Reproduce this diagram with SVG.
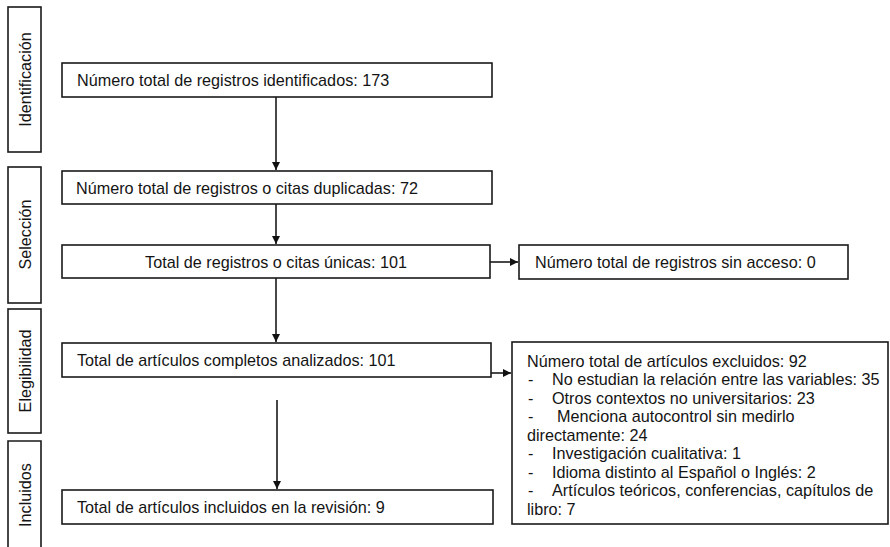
<svg xmlns="http://www.w3.org/2000/svg" width="890" height="547" viewBox="0 0 890 547">
  <style>
    .box { fill: #ffffff; stroke: #1a1a1a; stroke-width: 1.6; }
    .txt { font-family: "Liberation Sans", Arial, sans-serif; font-size: 16.2px; fill: #141414; }
    .edge { stroke: #1a1a1a; stroke-width: 1.6; fill: none; marker-end: url(#arrow); }
  </style>
  <defs>
    <marker id="arrow" viewBox="0 0 10 10" refX="10" refY="5" markerWidth="8" markerHeight="8" markerUnits="userSpaceOnUse" orient="auto">
      <path d="M0,0 L10,5 L0,10 Z" fill="#111111"/>
    </marker>
  </defs>

  <rect width="890" height="547" fill="#ffffff"/>

  <!-- phase labels -->
  <g id="phase-identificacion">
    <rect class="box" x="8" y="7" width="33" height="145"/>
    <text class="txt" transform="translate(30.5,79.5) rotate(-90)" text-anchor="middle">Identificación</text>
  </g>
  <g id="phase-seleccion">
    <rect class="box" x="8" y="167" width="33" height="136"/>
    <text class="txt" transform="translate(30.5,234.5) rotate(-90)" text-anchor="middle">Selección</text>
  </g>
  <g id="phase-elegibilidad">
    <rect class="box" x="8" y="309" width="33" height="124"/>
    <text class="txt" transform="translate(30.5,371) rotate(-90)" text-anchor="middle">Elegibilidad</text>
  </g>
  <g id="phase-incluidos">
    <path class="box" d="M8,548 L8,441 L41,441 L41,548"/>
    <text class="txt" transform="translate(30.5,495) rotate(-90)" text-anchor="middle">Incluidos</text>
  </g>

  <!-- flow boxes -->
  <g id="identificados">
    <rect class="box" x="62" y="63" width="430" height="34"/>
    <text class="txt" x="77" y="86">Número total de registros identificados: 173</text>
  </g>
  <g id="duplicados">
    <rect class="box" x="62" y="171" width="430" height="33"/>
    <text class="txt" x="76" y="193.5">Número total de registros o citas duplicadas: 72</text>
  </g>
  <g id="unicos">
    <rect class="box" x="62" y="245" width="428" height="33"/>
    <text class="txt" x="276" y="267.5" text-anchor="middle">Total de registros o citas únicas: 101</text>
  </g>
  <g id="sin-acceso">
    <rect class="box" x="519" y="245" width="329" height="34"/>
    <text class="txt" x="535" y="268">Número total de registros sin acceso: 0</text>
  </g>
  <g id="analizados">
    <rect class="box" x="62" y="343" width="429" height="34"/>
    <text class="txt" x="77" y="366">Total de artículos completos analizados: 101</text>
  </g>
  <g id="excluidos">
    <rect class="box" x="512" y="342" width="376" height="182"/>
    <text class="txt">
      <tspan x="527" y="366.5">Número total de artículos excluidos: 92</tspan>
      <tspan x="528" y="385">-</tspan><tspan x="552" y="385">No estudian la relación entre las variables: 35</tspan>
      <tspan x="528" y="403.5">-</tspan><tspan x="552" y="403.5">Otros contextos no universitarios: 23</tspan>
      <tspan x="528" y="422">-</tspan><tspan x="557" y="422">Menciona autocontrol sin medirlo</tspan>
      <tspan x="527" y="440.5">directamente: 24</tspan>
      <tspan x="528" y="459">-</tspan><tspan x="552" y="459">Investigación cualitativa: 1</tspan>
      <tspan x="528" y="477.5">-</tspan><tspan x="552" y="477.5">Idioma distinto al Español o Inglés: 2</tspan>
      <tspan x="528" y="496">-</tspan><tspan x="552" y="496">Artículos teóricos, conferencias, capítulos de</tspan>
      <tspan x="527" y="514.5">libro: 7</tspan>
    </text>
  </g>
  <g id="incluidos">
    <rect class="box" x="62" y="490" width="431" height="34"/>
    <text class="txt" x="77" y="513">Total de artículos incluidos en la revisión: 9</text>
  </g>

  <!-- connectors -->
  <g id="connectors">
    <line class="edge" x1="276" y1="97" x2="276" y2="170"/>
    <line class="edge" x1="276" y1="204" x2="276" y2="244"/>
    <line class="edge" x1="276" y1="278" x2="276" y2="342"/>
    <line class="edge" x1="277" y1="400" x2="277" y2="489"/>
    <line class="edge" x1="490" y1="262" x2="518" y2="262"/>
    <line class="edge" x1="491" y1="373" x2="511" y2="373"/>
  </g>
</svg>
